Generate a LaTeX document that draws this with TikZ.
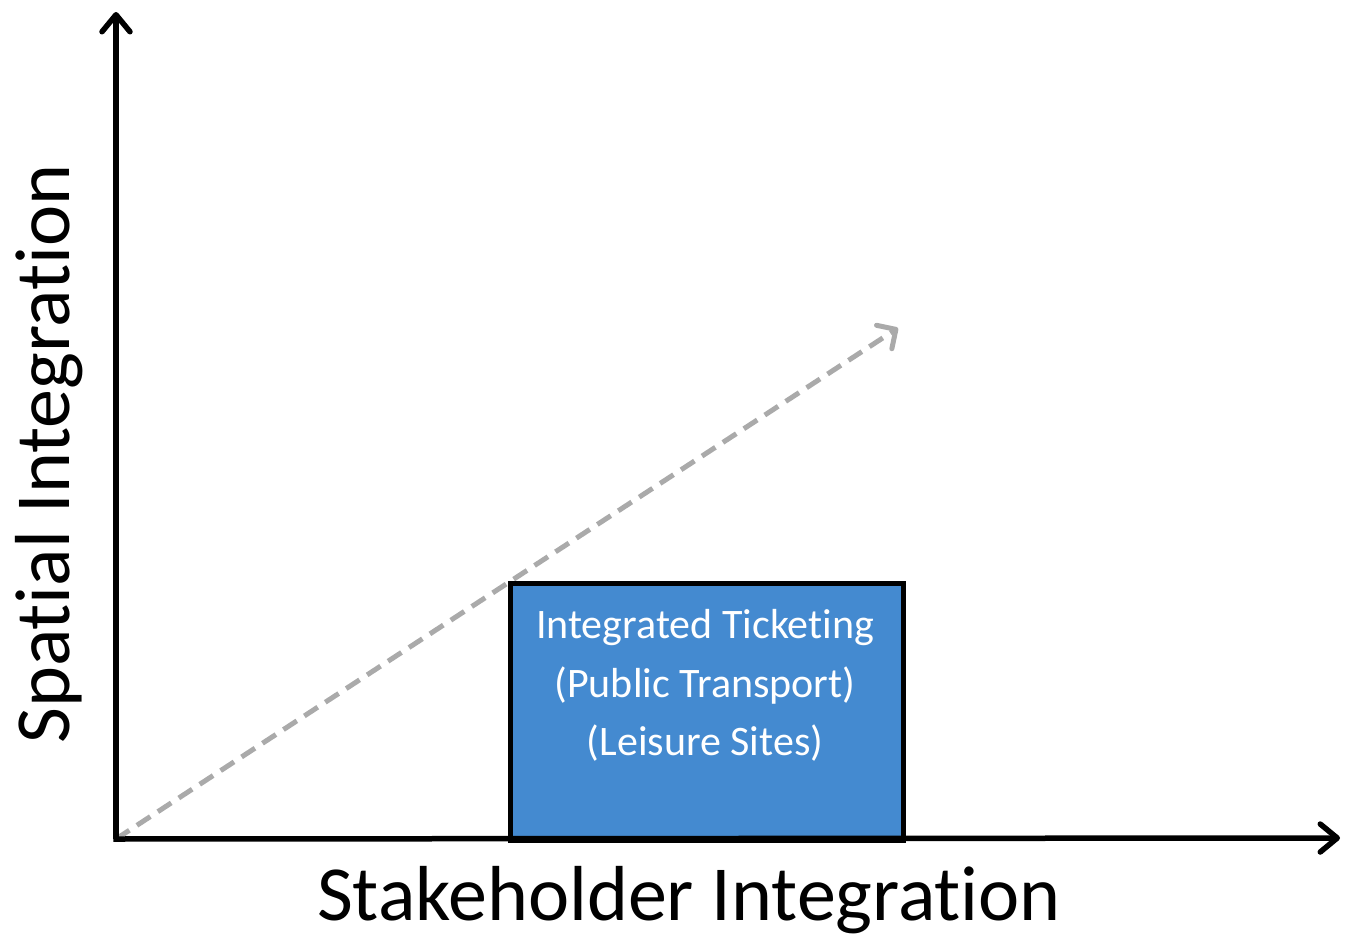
\documentclass[tikz,border=0pt]{standalone}
\usepackage{fontspec}
\setmainfont[Ligatures=NoCommon]{Carlito}
\usetikzlibrary{arrows.meta}
\definecolor{boxblue}{RGB}{68,138,208}
\definecolor{trend}{RGB}{170,170,170}
\tikzset{
  axis/.style={line width=5.5pt, -{Straight Barb[length=17pt,width=28pt,round,line width=5.5pt]}},
  trendline/.style={trend, line width=5pt, dash pattern=on 16pt off 9pt,
    -{Straight Barb[length=14pt,width=28pt,round,line width=5pt]}},
  stagebox/.style={draw=black, line width=4.5pt, fill=boxblue, inner sep=0pt},
  stagetext/.style={text=white, align=center, font=\fontsize{42}{58.5}\selectfont},
  axislabel/.style={font=\fontsize{78}{88}\selectfont, inner sep=0pt}
}
\begin{document}
\begin{tikzpicture}[x=1pt,y=-1pt]
  \useasboundingbox (0,0) rectangle (1345,940);
  % origin and axis ends
  \coordinate (o) at (116,839);
  \coordinate (ytip) at (116,12);
  \coordinate (xtip) at (1340,838);
  \coordinate (ttip) at (898,328);
  % diagonal trend, drawn beneath the box
  \draw[trendline] (o) -- (ttip);
  % integration stage
  \node[stagebox, minimum width=393pt, minimum height=257pt, anchor=north west]
    (box) at (508,581) {};
  \node[stagetext, anchor=north] (label) at (705,606)
    {Integrated Ticketing\\(Public Transport)\\(Leisure Sites)};
  % axes
  \draw[axis] (o) -- (ytip);
  \draw[axis] ([xshift=-2.75pt]o) -- (xtip);
  % axis titles
  \node[axislabel] (xlab) at (689,900) {Stakeholder Integration};
  \node[axislabel, rotate=90] (ylab) at (49,454) {Spatial Integration};
\end{tikzpicture}
\end{document}
